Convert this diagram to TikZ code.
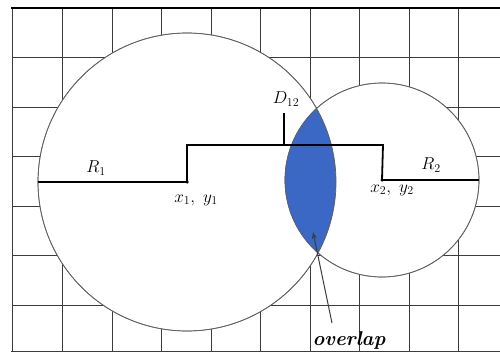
\documentclass[tikz,border=0pt]{standalone}
\usetikzlibrary{arrows.meta}
\definecolor{lensblue}{RGB}{58,104,196}
\definecolor{gridgray}{RGB}{60,60,60}
\definecolor{circgray}{RGB}{95,95,95}
\begin{document}
\begin{tikzpicture}[x=1pt,y=-1pt,
  gridline/.style={draw=gridgray,line width=1pt},
  circ/.style={circle,draw=circgray,line width=0.7pt,fill=white,inner sep=0pt,outer sep=0pt},
  bracket/.style={draw=black,line width=1.8pt},
  lbl/.style={font=\fontsize{17}{20}\selectfont,inner sep=1pt},
  centerdot/.style={circle,fill=black,inner sep=0pt,minimum size=3.5pt}]
\useasboundingbox (0,0) rectangle (500,353);
\fill[white] (0,0) rectangle (500,353);
% grid
\foreach \k in {1,...,9} {\draw[gridline] ({13.5+49.45*\k},8) -- ({13.5+49.45*\k},351);}
\foreach \k in {1,...,6} {\draw[gridline] (12,{8+49.5*\k}) -- (500,{8+49.5*\k});}
\draw[gridline] (12,351) -- (12,8);
\draw[draw=black,line width=1.6pt] (11,8) -- (500,8);
\draw[gridline] (11,351) -- (500,351);
% circles
\coordinate (c1) at (187,182);
\coordinate (c2) at (382,180);
\node[circ,minimum size=298pt] (C1) at (c1) {};
\node[circ,minimum size=194pt] (C2) at (c2) {};
\begin{scope}
  \clip (c1) circle (149);
  \fill[lensblue] (c2) circle (97);
\end{scope}
\draw[draw=circgray,line width=0.7pt] (c1) circle (149);
\draw[draw=circgray,line width=0.7pt] (c2) circle (97);
% bracket
\coordinate (b1) at (187,145);
\coordinate (b2) at (383,145);
\coordinate (t1) at (284,145);
\coordinate (t2) at (284,113);
\draw[bracket] (c1) -- (b1) -- (b2) -- (c2);
\draw[bracket] (t1) -- (t2);
% radii
\draw[bracket] (C1.west) -- (c1);
\draw[bracket] (c2) -- (C2.east);
\node[centerdot] (d1) at (c1) {};
\node[centerdot] (d2) at (c2) {};
% labels
\node[lbl] (r1) at (96,168) {$R_1$};
\node[lbl] (r2) at (431,165) {$R_2$};
\node[lbl] (p1) at (196,200) {$x_1,\ y_1$};
\node[lbl] (p2) at (392,190) {$x_2,\ y_2$};
\node[lbl] (dd) at (286,99) {$D_{12}$};
\node[font=\fontsize{20}{24}\selectfont\bfseries\itshape,inner sep=1pt] (ov) at (349,340) {overlap};
\coordinate (ovtip) at (313,232);
\draw[draw=gridgray,line width=1pt,-{Stealth[length=7pt,width=5pt]}] (332,323) -- (ovtip);
\end{tikzpicture}
\end{document}
